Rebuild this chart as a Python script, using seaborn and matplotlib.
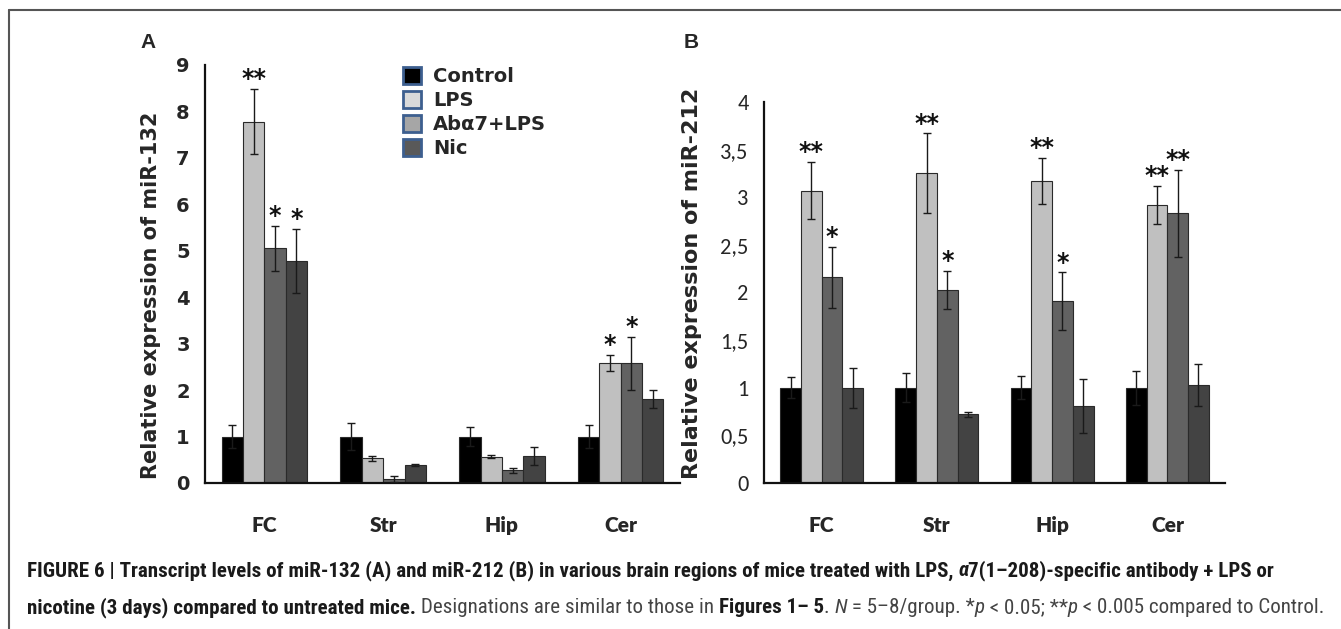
import numpy as np
import pandas as pd
import matplotlib
matplotlib.use('Agg')
import matplotlib.pyplot as plt
import seaborn as sns
from matplotlib.patches import Patch
from matplotlib.lines import Line2D

regions = ['FC', 'Str', 'Hip', 'Cer']
groups = ['Control', 'LPS', 'Abα7+LPS', 'Nic']

# miR-132 (panel A)
a_control = [1.0, 1.0, 1.0, 1.0]
a_lps = [7.78, 0.53, 0.57, 2.58]
a_ab = [5.05, 0.08, 0.27, 2.58]
a_nic = [4.78, 0.39, 0.58, 1.81]
a_control_err = [0.25, 0.30, 0.20, 0.25]
a_lps_err = [0.70, 0.05, 0.04, 0.17]
a_ab_err = [0.48, 0.06, 0.05, 0.57]
a_nic_err = [0.68, 0.02, 0.20, 0.20]
a_stars = {'LPS': ['**', '', '', '*'], 'Abα7+LPS': ['*', '', '', '*'], 'Nic': ['*', '', '', '']}

# miR-212 (panel B)
b_control = [1.0, 1.0, 1.0, 1.0]
b_lps = [3.07, 3.25, 3.17, 2.92]
b_ab = [2.16, 2.03, 1.91, 2.83]
b_nic = [1.0, 0.72, 0.81, 1.03]
b_control_err = [0.11, 0.15, 0.12, 0.18]
b_lps_err = [0.30, 0.42, 0.24, 0.20]
b_ab_err = [0.32, 0.20, 0.30, 0.46]
b_nic_err = [0.21, 0.03, 0.28, 0.22]
b_stars = {'LPS': ['**', '**', '**', '**'], 'Abα7+LPS': ['*', '*', '*', '**']}

a_ticks = [0, 1, 2, 3, 4, 5, 6, 7, 8, 9]
b_ticks = [0, 0.5, 1, 1.5, 2, 2.5, 3, 3.5, 4]
b_ticklabels = ['0', '0,5', '1', '1,5', '2', '2,5', '3', '3,5', '4']

bar_colors = ['#000000', '#c0c0c0', '#626262', '#434343']
legend_colors = ['#000000', '#dadada', '#a6a6a6', '#595959']

sns.set_style('white')
plt.rcParams['font.family'] = ['DejaVu Sans']
calibri = ['Carlito', 'Lato', 'DejaVu Sans']
cap_family = ['Roboto Condensed', 'Fira Sans Condensed', 'DejaVu Sans']

W, H = 1341, 629
fig = plt.figure(figsize=(W / 100, H / 100), dpi=100)
renderer = fig.canvas.get_renderer()


def px_axes(left, right, top, bottom):
    return fig.add_axes([left / W, 1 - bottom / H, (right - left) / W, (bottom - top) / H])


def long_df(vals):
    return pd.DataFrame({
        'region': np.tile(regions, len(groups)),
        'group': np.repeat(groups, len(regions)),
        'value': np.concatenate(vals),
    })


def draw_panel(ax, vals, errs, stars, ylim):
    sns.barplot(data=long_df(vals), x='region', y='value', hue='group',
                order=regions, hue_order=groups, palette=bar_colors,
                width=0.72, errorbar=None, edgecolor='#2a2a2a', linewidth=0.8,
                legend=False, ax=ax)
    for cont, g, e in zip(ax.containers, groups, errs):
        xs = [p.get_x() + p.get_width() / 2 for p in cont]
        hs = [p.get_height() for p in cont]
        ax.errorbar(xs, hs, yerr=e, fmt='none', ecolor='#1a1a1a',
                    elinewidth=1, capsize=3, capthick=1, zorder=5)
        for x, h, err, s in zip(xs, hs, e, stars.get(g, [''] * 4)):
            if s:
                ax.annotate(s, (x, h + err), xytext=(0, -1.5), textcoords='offset points',
                            ha='center', va='bottom', fontsize=17, fontweight='bold',
                            family='DejaVu Sans', color='#111111')
    ax.set_xlim(-0.5, 3.5)
    ax.set_ylim(*ylim)
    sns.despine(ax=ax)
    for sp in ['left', 'bottom']:
        ax.spines[sp].set_linewidth(1.6)
        ax.spines[sp].set_color('#111111')
    ax.set_xticks(range(4))
    ax.set_xticks([-0.5, 0.5, 1.5, 2.5, 3.5], minor=True)
    ax.tick_params(axis='x', which='major', length=0, pad=24)
    ax.tick_params(axis='x', which='minor', length=6, width=1.6, direction='out', color='#111111')
    ax.tick_params(axis='y', length=5, width=1.2, direction='out', color='#111111', pad=6)
    ax.set_xlabel('')
    for lab in ax.get_xticklabels():
        lab.set_fontfamily('Lato')
        lab.set_fontweight('heavy')
        lab.set_fontsize(15)


# panel A
ax_a = px_axes(205, 680, 65, 483)
draw_panel(ax_a, [a_control, a_lps, a_ab, a_nic],
           [a_control_err, a_lps_err, a_ab_err, a_nic_err], a_stars, (0, 9))
ax_a.set_yticks(a_ticks)
ax_a.set_yticklabels([str(t) for t in a_ticks], fontsize=14, fontweight='bold', family='DejaVu Sans')
ax_a.set_ylabel('Relative expression of miR-132', fontsize=15, fontweight='bold')
ax_a.yaxis.set_label_coords(-0.092, 0.45)

# panel B
ax_b = px_axes(764, 1225, 102, 483)
draw_panel(ax_b, [b_control, b_lps, b_ab, b_nic],
           [b_control_err, b_lps_err, b_ab_err, b_nic_err], b_stars, (0, 4))
ax_b.set_yticks(b_ticks)
ax_b.set_yticklabels(b_ticklabels, fontsize=16, family=calibri)
ax_b.set_ylabel('Relative expression of miR-212', fontsize=16, fontweight='bold')
ax_b.yaxis.set_label_coords(-0.134, 0.525)

fig.text(148 / W, 1 - 42 / H, 'A', fontsize=15, fontweight='bold', family='Liberation Sans',
         ha='center', va='center')
fig.text(691 / W, 1 - 42 / H, 'B', fontsize=15, fontweight='bold', family='Liberation Sans',
         ha='center', va='center')

handles = [Patch(facecolor=c, edgecolor='#3d5f8f', linewidth=2) for c in legend_colors]
fig.legend(handles, groups, loc='upper left', bbox_to_anchor=(403 / W, 1 - 67 / H),
           frameon=False, prop=dict(family='DejaVu Sans', weight='bold', size=14),
           handlelength=0.95, handleheight=0.95, handletextpad=0.6, labelspacing=0.25,
           borderaxespad=0, borderpad=0)

# frame lines of the figure panel
fig.add_artist(Line2D([9 / W, 1], [1 - 10 / H, 1 - 10 / H], color='#555555', lw=1.5))
fig.add_artist(Line2D([9 / W, 9 / W], [0, 1 - 10 / H], color='#555555', lw=1.5))

BLK, GRY = '#1a1a1a', '#444444'
line1 = [
    ('FIGURE 6 | Transcript levels of miR-132 (A) and miR-212 (B) in various brain regions of mice treated with LPS, ', 'bold', 'normal', BLK),
    ('α', 'bold', 'italic', BLK),
    ('7(1–208)-specific antibody + LPS or', 'bold', 'normal', BLK),
]
line2 = [
    ('nicotine (3 days) compared to untreated mice.', 'bold', 'normal', BLK),
    (' Designations are similar to those in ', 'normal', 'normal', GRY),
    ('Figures 1– 5', 'bold', 'normal', BLK),
    ('. ', 'normal', 'normal', GRY),
    ('N', 'normal', 'italic', GRY),
    (' = 5–8/group. *', 'normal', 'normal', GRY),
    ('p', 'normal', 'italic', GRY),
    (' < 0.05; **', 'normal', 'normal', GRY),
    ('p', 'normal', 'italic', GRY),
    (' < 0.005 compared to Control.', 'normal', 'normal', GRY),
]


def seg_width(s, size, weight, style):
    kw = dict(fontsize=size, fontweight=weight, fontstyle=style, family=cap_family)
    t1 = fig.text(0, 0, s + '|', **kw)
    t2 = fig.text(0, 0, '|', **kw)
    w = t1.get_window_extent(renderer).width - t2.get_window_extent(renderer).width
    t1.remove()
    t2.remove()
    return w


def line_width(segs, size):
    return sum(seg_width(s, size, w, st) for s, w, st, _ in segs)


def draw_line(segs, x0, y, size):
    x = x0
    for s, w, st, c in segs:
        fig.text(x / W, 1 - y / H, s, fontsize=size, fontweight=w, fontstyle=st,
                 family=cap_family, color=c, va='baseline', ha='left')
        x += seg_width(s, size, w, st)


cap_size = min(14 * (1317 - 27) / line_width(line1, 14),
               14 * (1326 - 27) / line_width(line2, 14))
draw_line(line1, 27, 576, cap_size)
draw_line(line2, 27, 613, cap_size)

fig.savefig('out.png', dpi=100)
